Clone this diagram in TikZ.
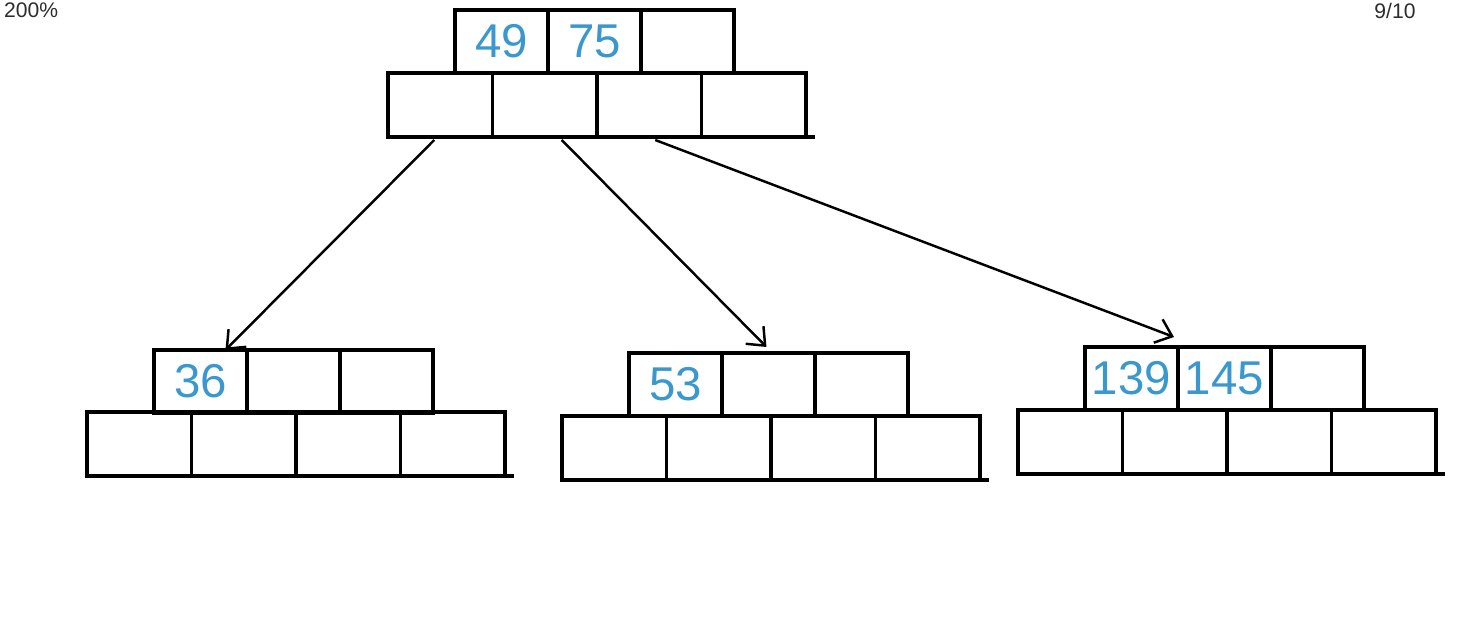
\documentclass[tikz,border=0pt]{standalone}
\usepackage{fontspec}
\setmainfont{Liberation Sans}
\usepackage{tikz}
\usetikzlibrary{positioning}
\usetikzlibrary{arrows.meta}
\usetikzlibrary{calc}
\definecolor{keyblue}{RGB}{58,152,206}
\definecolor{uigray}{RGB}{45,45,45}

\begin{document}
\begin{tikzpicture}[x=0.02cm, y=-0.02cm,
				keycell/.style={draw, line width=1.8pt, rectangle, inner sep=0pt, outer sep=0pt, anchor=north west,
					minimum width=1.86cm, minimum height=1.26cm, text=keyblue,
					font=\fontsize{27}{29}\selectfont},
				ptrcell/.style={draw, line width=1.8pt, rectangle, inner sep=0pt, outer sep=0pt, anchor=north west,
					minimum width=2.09cm, minimum height=1.28cm},
				baseline/.style={line width=1.8pt},
				pointer/.style={line width=1.4pt, -{Straight Barb[length=3mm, width=5mm, line width=1.4pt]}},
				uitext/.style={text=uigray, font=\fontsize{12}{13}\selectfont, inner sep=1pt}]
				\useasboundingbox (0,0) rectangle (1472,640);
				\fill[white] (0,0) rectangle (1472,640);
				
				% viewer labels
				\node[uitext, anchor=north west] (zoom) at (2,1) {200\%};
				\node[uitext, anchor=north] (page) at (1395,1) {9/10};
				
				% root
				\node[keycell] (rk1) at (455,10) {49};
				\node[keycell, right=0pt of rk1] (rk2) {75};
				\node[keycell, right=0pt of rk2] (rk3) {};
				\node[ptrcell] (rp1) at (388,73) {};
				\node[ptrcell, right=0pt of rp1] (rp2) {};
				\node[ptrcell, right=0pt of rp2] (rp3) {};
				\node[ptrcell, right=0pt of rp3] (rp4) {};
				\draw[baseline] (rp4.south east) -- ++(9,0);
				
				% left child
				\node[keycell] (ak1) at (154,350) {36};
				\node[keycell, right=0pt of ak1] (ak2) {};
				\node[keycell, right=0pt of ak2] (ak3) {};
				\node[ptrcell] (ap1) at (87,412) {};
				\node[ptrcell, right=0pt of ap1] (ap2) {};
				\node[ptrcell, right=0pt of ap2] (ap3) {};
				\node[ptrcell, right=0pt of ap3] (ap4) {};
				\draw[baseline] (ap4.south east) -- ++(9,0);
				
				% middle child
				\node[keycell] (bk1) at (629,353) {53};
				\node[keycell, right=0pt of bk1] (bk2) {};
				\node[keycell, right=0pt of bk2] (bk3) {};
				\node[ptrcell] (bp1) at (562,416) {};
				\node[ptrcell, right=0pt of bp1] (bp2) {};
				\node[ptrcell, right=0pt of bp2] (bp3) {};
				\node[ptrcell, right=0pt of bp3] (bp4) {};
				\draw[baseline] (bp4.south east) -- ++(9,0);
				
				% right child
				\node[keycell] (ck1) at (1085,347) {139};
				\node[keycell, right=0pt of ck1] (ck2) {145};
				\node[keycell, right=0pt of ck2] (ck3) {};
				\node[ptrcell] (cp1) at (1018,410) {};
				\node[ptrcell, right=0pt of cp1] (cp2) {};
				\node[ptrcell, right=0pt of cp2] (cp3) {};
				\node[ptrcell, right=0pt of cp3] (cp4) {};
				\draw[baseline] (cp4.south east) -- ++(9,0);
				
				\draw[pointer] ($(rp1.south)+(-6,3)$) -- ($(ak1.north)+(25,0)$);
				\draw[pointer] ($(rp2.south)+(17,3)$) -- ($(bk2.north)+(-2,-6)$);
				\draw[pointer] ($(rp3.south)+(6,3)$) -- ($(ck1.north east)+(-4,-10)$);
				
			\end{tikzpicture}
\end{document}
